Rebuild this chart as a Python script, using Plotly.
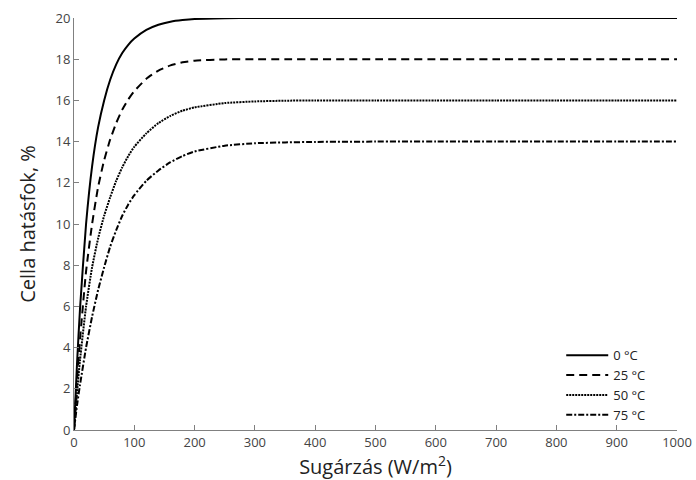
import plotly.graph_objects as go

irradiance = [0, 5, 10, 20, 30, 40, 50, 60, 70, 80, 90, 100, 120, 140, 160, 180, 200, 250, 300, 350, 400, 500, 600, 700, 800, 900, 1000]
eff_0C = [0, 3.2, 5.9, 10.0, 12.8, 14.7, 16.0, 17.0, 17.75, 18.3, 18.7, 19.0, 19.42, 19.67, 19.82, 19.9, 19.95, 19.99, 20.0, 20.0, 20.0, 20.0, 20.0, 20.0, 20.0, 20.0, 20.0]
eff_25C = [0, 2.4, 4.4, 7.7, 10.0, 11.8, 13.1, 14.1, 14.9, 15.55, 16.05, 16.45, 17.05, 17.45, 17.7, 17.85, 17.93, 17.99, 18.0, 18.0, 18.0, 18.0, 18.0, 18.0, 18.0, 18.0, 18.0]
eff_50C = [0, 1.8, 3.4, 6.0, 7.9, 9.3, 10.4, 11.3, 12.1, 12.75, 13.3, 13.75, 14.4, 14.9, 15.25, 15.5, 15.66, 15.87, 15.95, 15.985, 16.0, 16.0, 16.0, 16.0, 16.0, 16.0, 16.0]
eff_75C = [0, 1.2, 2.2, 4.0, 5.5, 6.8, 7.9, 8.9, 9.7, 10.4, 10.95, 11.4, 12.1, 12.6, 13.0, 13.3, 13.52, 13.8, 13.92, 13.96, 13.985, 14.0, 14.0, 14.0, 14.0, 14.0, 14.0]

series = [
    ("0 °C", eff_0C, "solid"),
    ("25 °C", eff_25C, "8px,5px"),
    ("50 °C", eff_50C, "2px,1px"),
    ("75 °C", eff_75C, "6px,2px,2px,2px"),
]

fig = go.Figure()
for name, vals, dash in series:
    fig.add_trace(go.Scatter(
        x=irradiance, y=vals, name=name, mode="lines",
        line=dict(color="black", width=2, dash=dash, shape="spline", smoothing=0.5),
    ))

fig.update_layout(
    width=696, height=480,
    margin=dict(l=74, r=19, t=18, b=50, autoexpand=False),
    paper_bgcolor="white", plot_bgcolor="white",
    font=dict(family="Open Sans, sans-serif", color="#444444", size=13),
    legend=dict(
        x=0.808, y=0.218, xanchor="left", yanchor="top",
        bgcolor="rgba(0,0,0,0)", font=dict(size=13, color="#222222"),
        itemwidth=42, tracegroupgap=0,
    ),
    showlegend=True,
)
fig.update_xaxes(
    range=[0, 1000], tickmode="linear", tick0=0, dtick=100, automargin=False,
    showgrid=False, zeroline=False, showline=True, linecolor="#808080", linewidth=1,
    ticks="inside", ticklen=5, tickcolor="#808080",
    title=dict(text="Sugárzás (W/m<sup>2</sup>)", font=dict(size=20, color="#222222"), standoff=10),
)
fig.update_yaxes(
    range=[0, 20], tickmode="linear", tick0=0, dtick=2, automargin=False,
    showgrid=False, zeroline=False, showline=True, linecolor="#808080", linewidth=1,
    ticks="inside", ticklen=5, tickcolor="#808080",
    title=dict(text="Cella hatásfok, %", font=dict(size=20, color="#222222"), standoff=14),
)

fig.write_html("out.html")
